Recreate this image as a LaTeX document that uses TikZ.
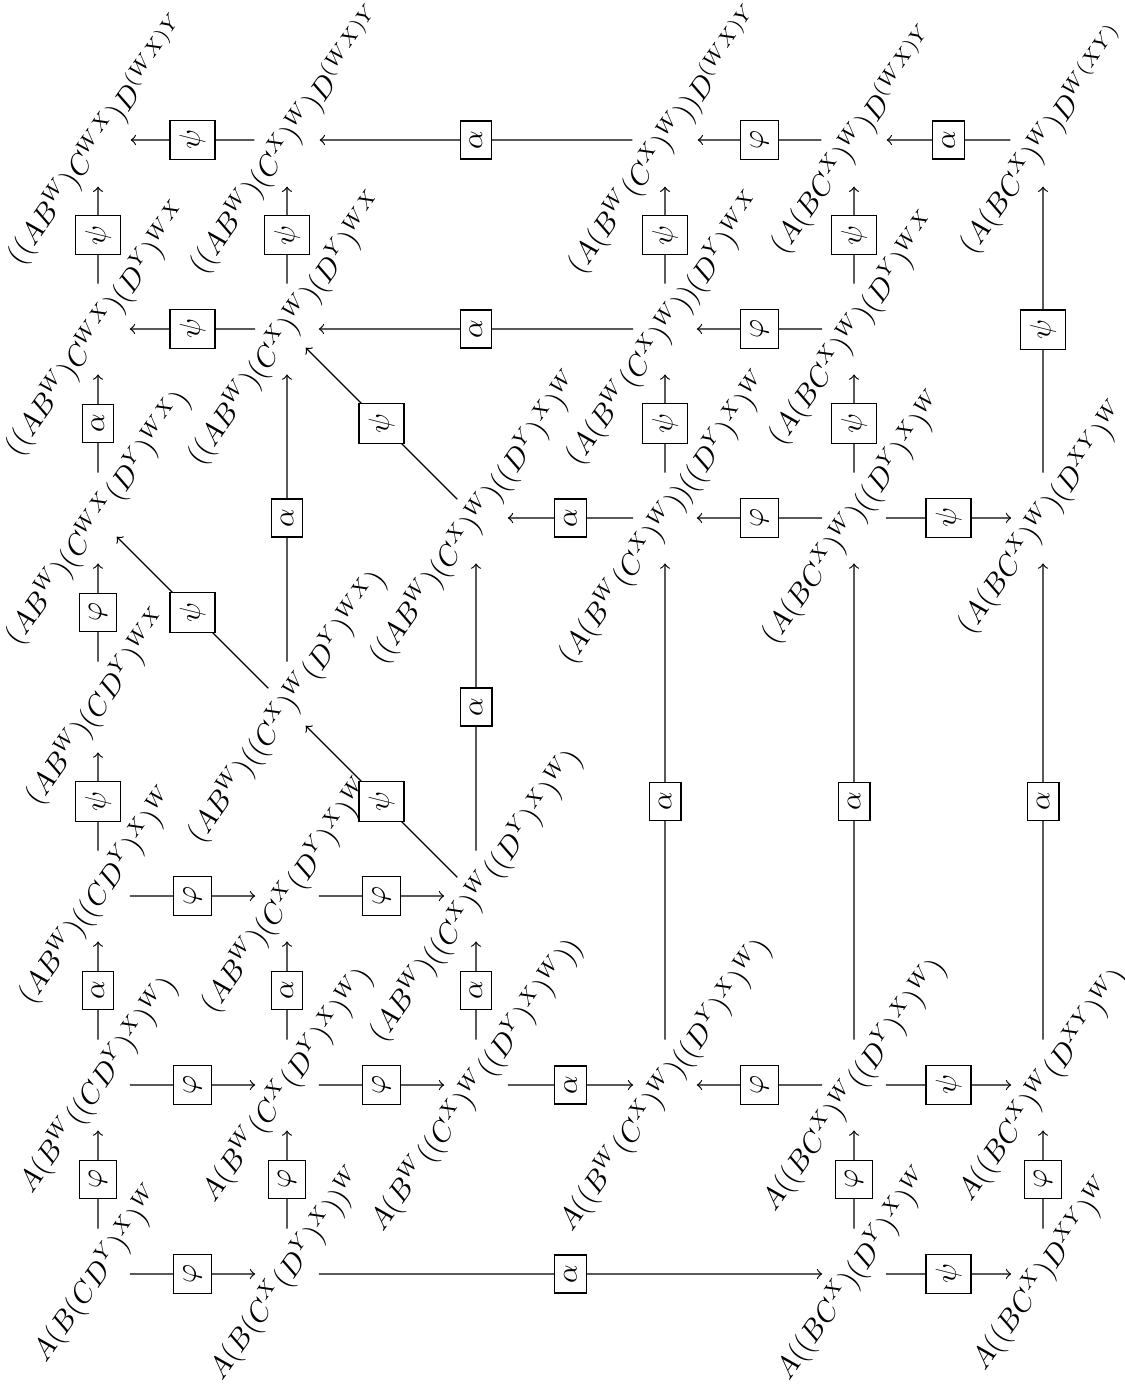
\documentclass[tikz,border=0pt]{standalone}
\usepackage{amsmath}
\usepackage{graphicx}
\newcommand{\boxlab}[1]{\rotatebox{90}{$#1$}}
\begin{document}
\begin{tikzpicture}[x=0.3448pt,y=0.3448pt,
  obj/.style={rotate=55},
  lab/.style={draw, fill=white, line width=0.4pt},
  arr/.style={->}]
\useasboundingbox (0,0) rectangle (1125,1386);
% row 0
\node[obj] (n00) at (98,1246) {$((AB^W)C^{WX})D^{(WX)Y}$};
\node[obj] (n10) at (287,1246) {$((AB^W)(C^X)^W)D^{(WX)Y}$};
\node[obj] (n30) at (665,1246) {$(A(B^W(C^X)^W))D^{(WX)Y}$};
\node[obj] (n40) at (854,1246) {$(A(BC^X)^W)D^{(WX)Y}$};
\node[obj] (n50) at (1043,1246) {$(A(BC^X)^W)D^{W(XY)}$};
% row 1
\node[obj] (n01) at (98,1057) {$((AB^W)C^{WX})(D^Y)^{WX}$};
\node[obj] (n11) at (287,1057) {$((AB^W)(C^X)^W)(D^Y)^{WX}$};
\node[obj] (n31) at (665,1057) {$(A(B^W(C^X)^W))(D^Y)^{WX}$};
\node[obj] (n41) at (854,1057) {$(A(BC^X)^W)(D^Y)^{WX}$};
% row 2
\node[obj] (n02) at (98,868) {$(AB^W)(C^{WX}(D^Y)^{WX})$};
\node[obj] (n22) at (476,868) {$((AB^W)(C^X)^W)((D^Y)^X)^W$};
\node[obj] (n32) at (665,868) {$(A(B^W(C^X)^W))((D^Y)^X)^W$};
\node[obj] (n42) at (854,868) {$(A(BC^X)^W)((D^Y)^X)^W$};
\node[obj] (n52) at (1043,868) {$(A(BC^X)^W)(D^{XY})^W$};
% row 3
\node[obj] (n03) at (98,679) {$(AB^W)(CD^Y)^{WX}$};
\node[obj] (n13) at (287,679) {$(AB^W)((C^X)^W(D^Y)^{WX})$};
% row 4
\node[obj] (n04) at (98,490) {$(AB^W)((CD^Y)^X)^W$};
\node[obj] (n14) at (287,490) {$(AB^W)(C^X(D^Y)^X)^W$};
\node[obj] (n24) at (476,490) {$(AB^W)((C^X)^W((D^Y)^X)^W)$};
% row 5
\node[obj] (n05) at (98,301) {$A(B^W((CD^Y)^X)^W)$};
\node[obj] (n15) at (287,301) {$A(B^W(C^X(D^Y)^X)^W)$};
\node[obj] (n25) at (476,301) {$A(B^W((C^X)^W((D^Y)^X)^W))$};
\node[obj] (n35) at (665,301) {$A((B^W(C^X)^W)((D^Y)^X)^W)$};
\node[obj] (n45) at (854,301) {$A((BC^X)^W((D^Y)^X)^W)$};
\node[obj] (n55) at (1043,301) {$A((BC^X)^W(D^{XY})^W)$};
% row 6
\node[obj] (n06) at (98,112) {$A(B(CD^Y)^X)^W$};
\node[obj] (n16) at (287,112) {$A(B(C^X(D^Y)^X))^W$};
\node[obj] (n46) at (854,112) {$A((BC^X)(D^Y)^X)^W$};
\node[obj] (n56) at (1043,112) {$A((BC^X)D^{XY})^W$};

% row 0 arrows
\draw[arr] (n10) -- node[lab] {\boxlab{\psi}} (n00);
\draw[arr] (n30) -- node[lab] {\boxlab{\alpha}} (n10);
\draw[arr] (n40) -- node[lab] {\boxlab{\varphi}} (n30);
\draw[arr] (n50) -- node[lab] {\boxlab{\alpha}} (n40);
% row 1 arrows
\draw[arr] (n11) -- node[lab] {\boxlab{\psi}} (n01);
\draw[arr] (n31) -- node[lab] {\boxlab{\alpha}} (n11);
\draw[arr] (n41) -- node[lab] {\boxlab{\varphi}} (n31);
% verticals 1->0
\draw[arr] (n01) -- node[lab] {\boxlab{\psi}} (n00);
\draw[arr] (n11) -- node[lab] {\boxlab{\psi}} (n10);
\draw[arr] (n31) -- node[lab] {\boxlab{\psi}} (n30);
\draw[arr] (n41) -- node[lab] {\boxlab{\psi}} (n40);
\draw[arr] (n52) -- node[lab] {\boxlab{\psi}} (n50);
% 2->1
\draw[arr] (n02) -- node[lab] {\boxlab{\alpha}} (n01);
\draw[arr] (n13) -- node[lab] {\boxlab{\alpha}} (n11);
\draw[arr] (n22) -- node[lab] {\boxlab{\psi}} (n11);
\draw[arr] (n32) -- node[lab] {\boxlab{\psi}} (n31);
\draw[arr] (n42) -- node[lab] {\boxlab{\psi}} (n41);
% row 2 arrows
\draw[arr] (n32) -- node[lab] {\boxlab{\alpha}} (n22);
\draw[arr] (n42) -- node[lab] {\boxlab{\varphi}} (n32);
\draw[arr] (n42) -- node[lab] {\boxlab{\psi}} (n52);
% 3->2
\draw[arr] (n03) -- node[lab] {\boxlab{\varphi}} (n02);
\draw[arr] (n13) -- node[lab] {\boxlab{\psi}} (n02);
\draw[arr] (n24) -- node[lab] {\boxlab{\alpha}} (n22);
% 4->3
\draw[arr] (n04) -- node[lab] {\boxlab{\psi}} (n03);
\draw[arr] (n24) -- node[lab] {\boxlab{\psi}} (n13);
% row 4 arrows
\draw[arr] (n04) -- node[lab] {\boxlab{\varphi}} (n14);
\draw[arr] (n14) -- node[lab] {\boxlab{\varphi}} (n24);
% 5->4 and long verticals
\draw[arr] (n05) -- node[lab] {\boxlab{\alpha}} (n04);
\draw[arr] (n15) -- node[lab] {\boxlab{\alpha}} (n14);
\draw[arr] (n25) -- node[lab] {\boxlab{\alpha}} (n24);
\draw[arr] (n35) -- node[lab] {\boxlab{\alpha}} (n32);
\draw[arr] (n45) -- node[lab] {\boxlab{\alpha}} (n42);
\draw[arr] (n55) -- node[lab] {\boxlab{\alpha}} (n52);
% row 5 arrows
\draw[arr] (n05) -- node[lab] {\boxlab{\varphi}} (n15);
\draw[arr] (n15) -- node[lab] {\boxlab{\varphi}} (n25);
\draw[arr] (n25) -- node[lab] {\boxlab{\alpha}} (n35);
\draw[arr] (n45) -- node[lab] {\boxlab{\varphi}} (n35);
\draw[arr] (n45) -- node[lab] {\boxlab{\psi}} (n55);
% 6->5
\draw[arr] (n06) -- node[lab] {\boxlab{\varphi}} (n05);
\draw[arr] (n16) -- node[lab] {\boxlab{\varphi}} (n15);
\draw[arr] (n46) -- node[lab] {\boxlab{\varphi}} (n45);
\draw[arr] (n56) -- node[lab] {\boxlab{\varphi}} (n55);
% row 6 arrows
\draw[arr] (n06) -- node[lab] {\boxlab{\varphi}} (n16);
\draw[arr] (n16) -- node[lab] {\boxlab{\alpha}} (n46);
\draw[arr] (n46) -- node[lab] {\boxlab{\psi}} (n56);
\end{tikzpicture}
\end{document}
